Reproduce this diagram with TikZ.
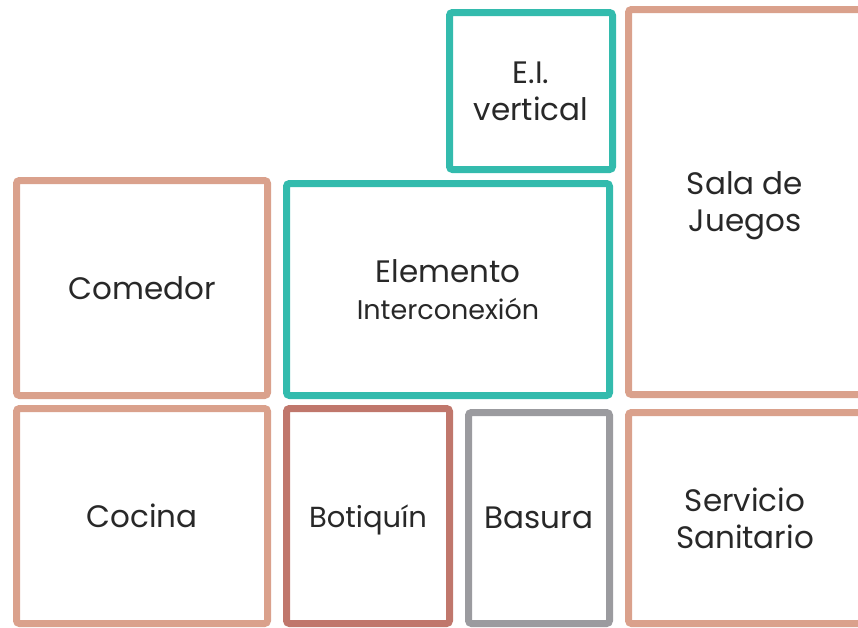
\documentclass[tikz,border=0pt]{standalone}
\usepackage{fontspec}
\setmainfont{Poppins}
\usepackage{tikz}
\definecolor{salmon}{RGB}{218,161,140}
\definecolor{teal}{RGB}{51,187,173}
\definecolor{rust}{RGB}{192,119,108}
\definecolor{ash}{RGB}{155,155,159}
\definecolor{ink}{RGB}{40,40,40}

\begin{document}
\begin{tikzpicture}[
    x=1pt, y=-1pt,
    room/.style={rectangle, draw=salmon, line width=7pt, rounded corners=3pt,
        inner sep=0pt, outer sep=0pt, align=center, text=ink,
        font=\fontsize{31}{37}\selectfont},
    link/.style={room, draw=teal},
    aid/.style={room, draw=rust, font=\fontsize{29}{35}\selectfont},
    waste/.style={room, draw=ash}
]
\useasboundingbox (0,0) rectangle (858,627);
\clip (0,0) rectangle (858,627);

\node[link, minimum width=163pt, minimum height=157pt] (eiv) at (531,91) {E.I.\\vertical};
\node[room, minimum width=233pt, minimum height=385pt, text depth=0pt] (sala) at (745,202) {Sala de\\Juegos};
\node[room, minimum width=251pt, minimum height=215pt] (comedor) at (142,288) {Comedor};
\node[link, minimum width=323pt, minimum height=212pt] (elem) at (448,289.5)
    {Elemento\\{\fontsize{27}{37}\selectfont Interconexión}};
\node[room, minimum width=251pt, minimum height=215pt] (cocina) at (142,516) {Cocina};
\node[aid, minimum width=163pt, minimum height=215pt, text depth=0pt] (botiquin) at (368,516) {Botiquín};
\node[waste, minimum width=141pt, minimum height=211pt] (basura) at (539,518) {Basura};
\node[room, minimum width=233pt, minimum height=211pt] (servicio) at (745,518) {Servicio\\Sanitario};
\end{tikzpicture}
\end{document}
